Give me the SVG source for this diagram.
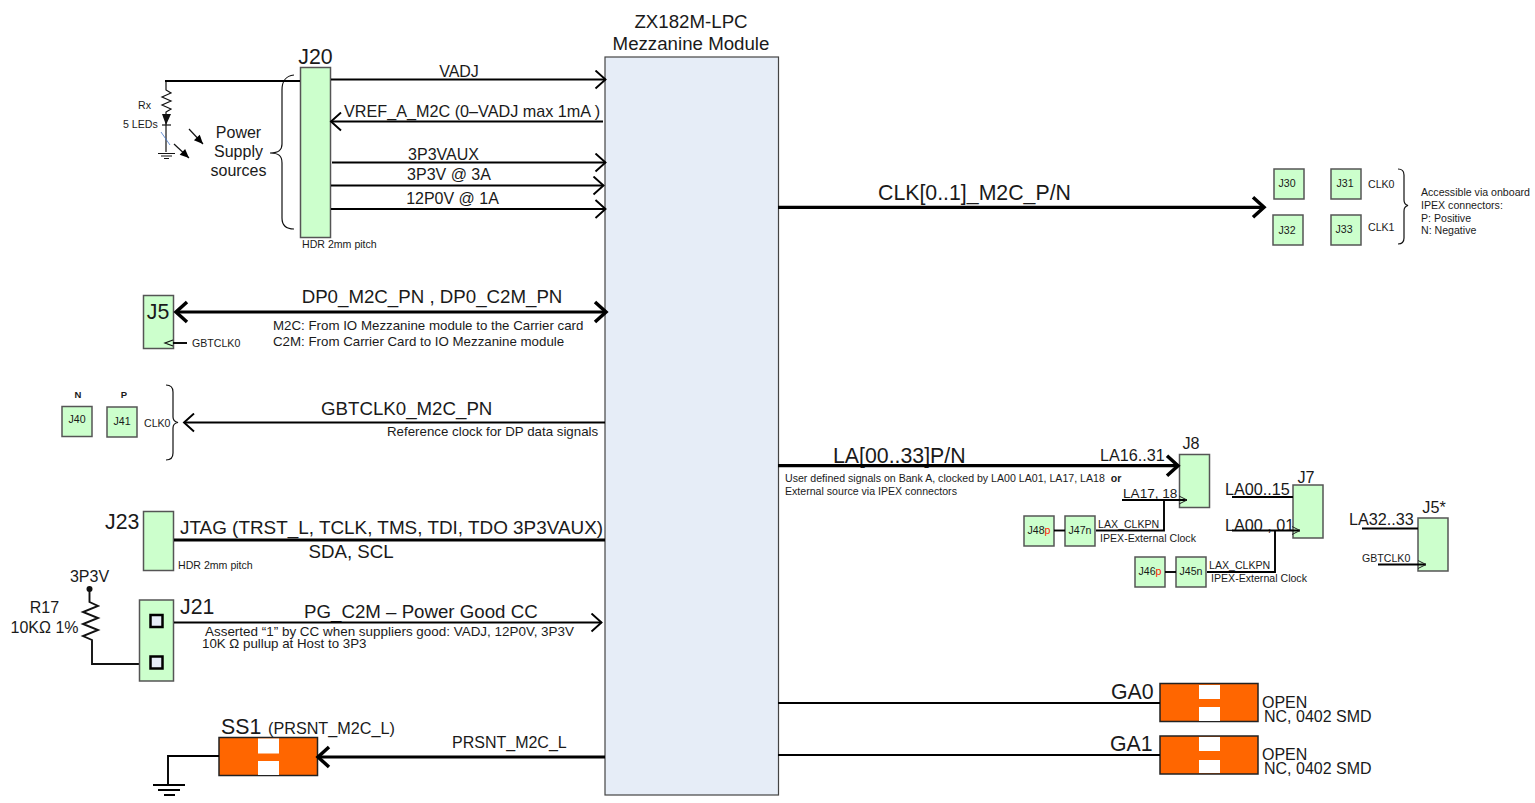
<svg xmlns="http://www.w3.org/2000/svg" width="1535" height="803" viewBox="0 0 1535 803">
<style>
text{font-family:"Liberation Sans",Arial,sans-serif;fill:#1a1a1a}
.gb{fill:#ccffcc;stroke:#555;stroke-width:1.5}
.k{fill:none;stroke:#000;stroke-width:1.9}
.k1{fill:none;stroke:#111;stroke-width:1.2}
.t{fill:none;stroke:#000;stroke-width:3.2}
.or{fill:#ff6600;stroke:#222;stroke-width:1.5}
.w{fill:#fff}
.s9{font-size:9.5px}.s10{font-size:10.6px}.s12{font-size:13.3px}.s15{font-size:16px}.s16{font-size:16.2px}.s18{font-size:18.7px}.s20{font-size:21.3px}
.m{text-anchor:middle}
</style>
<defs>
<marker id="a" markerUnits="userSpaceOnUse" markerWidth="14" markerHeight="20" refX="12" refY="10" orient="auto-start-reverse"><path d="M2,1 L12,10 L2,19" fill="none" stroke="#000" stroke-width="1.900"/></marker>
<marker id="b" markerUnits="userSpaceOnUse" markerWidth="16" markerHeight="26" refX="13" refY="13" orient="auto-start-reverse"><path d="M2,3 L13,13 L2,23" fill="none" stroke="#000" stroke-width="3.500"/></marker>
<marker id="o" markerUnits="userSpaceOnUse" markerWidth="10" markerHeight="10" refX="9" refY="5" orient="auto-start-reverse"><path d="M1,1 L9,5 L1,9" fill="none" stroke="#222" stroke-width="1"/></marker>
<marker id="f" markerUnits="userSpaceOnUse" markerWidth="12" markerHeight="12" refX="11" refY="6" orient="auto"><path d="M2,2 L11,6 L2,10 Z" fill="#000"/></marker>
</defs>

<g id="module"><rect x="605" y="57" width="173.500" height="738" fill="#e6edf7" stroke="#444" stroke-width="1.200"/>
<text class="s18 m" x="691" y="28">ZX182M-LPC</text><text class="s18 m" x="691" y="50">Mezzanine Module</text></g>

<g id="J20"><rect class="gb" x="300.500" y="67.500" width="30" height="170"/><text class="s20 m" x="315.500" y="64">J20</text><text class="s10" x="302" y="248">HDR 2mm pitch</text></g>

<g id="led">
<path class="k1" stroke-width="1.500" d="M166,81 V90 L171,93 L162,97 L171,101 L162,105 L171,109 L166,112 V152"/>
<path d="M162,114 H171 L166,125 Z" fill="#111"/><path class="k1" d="M162,125 H171"/>
<path d="M161,132 L170,145" stroke="#4477cc" stroke-width="0.800" fill="none"/>
<path class="k1" d="M158,153.500 H175 M161,156 H172 M164,158.500 H169"/>
<path d="M189,129 L203,144" class="k1" marker-end="url(#f)"/>
<path d="M174,144 L189,158" class="k1" marker-end="url(#f)"/>
<text class="s10" x="138" y="109" fill="#333">Rx</text>
<text class="s10" x="123" y="128" fill="#333">5 LEDs</text>
<text class="s15 m" x="238.500" y="138">Power</text><text class="s15 m" x="238.500" y="157">Supply</text><text class="s15 m" x="238.500" y="176">sources</text>
<path class="k1" d="M294,75 C286,76 282,80 282,90 V144 C282,150 279,153 270,153 C279,153 282,156 282,163 V218 C282,225 286,229 294,229"/>
</g>

<g id="signals-left">
<text class="s15 m" x="459" y="77">VADJ</text>
<text class="s16" x="344" y="116.500">VREF_A_M2C (0–VADJ max 1mA )</text>
<text class="s15 m" x="443.500" y="160">3P3VAUX</text>
<text class="s15 m" x="449" y="180">3P3V @ 3A</text>
<text class="s15 m" x="452.500" y="204">12P0V @ 1A</text>
<text class="s18 m" x="432" y="303">DP0_M2C_PN , DP0_C2M_PN</text>
<text class="s12" x="273" y="330">M2C: From IO Mezzanine module to the Carrier card</text>
<text class="s12" x="273" y="346">C2M: From Carrier Card to IO Mezzanine module</text>
<text class="s18" x="321" y="415">GBTCLK0_M2C_PN</text>
<text class="s12" x="387" y="436">Reference clock for DP data signals</text>
<text font-size="18.900" x="180" y="534">JTAG (TRST_L, TCLK, TMS, TDI, TDO 3P3VAUX)</text>
<text class="s18" x="308.500" y="558">SDA, SCL</text>
<text class="s18" x="304" y="618">PG_C2M – Power Good CC</text>
<text font-size="13.450" x="205" y="636">Asserted “1” by CC when suppliers good: VADJ, 12P0V, 3P3V</text>
<text class="s12" x="202" y="648">10K Ω pullup at Host to 3P3</text>
<text class="s15" x="452" y="748">PRSNT_M2C_L</text>
</g>

<g id="J5"><rect class="gb" x="143.500" y="295.500" width="30" height="53"/><text class="s20 m" x="158" y="319">J5</text><text class="s10" x="192" y="347" fill="#333">GBTCLK0</text></g>

<g id="J40"><rect class="gb" x="62" y="406.500" width="30" height="30"/><text class="s10 m" x="77" y="423" fill="#333">J40</text><text class="s9 m" x="78" y="398" font-weight="bold">N</text></g>
<g id="J41"><rect class="gb" x="107" y="407" width="30" height="30"/><text class="s10 m" x="122" y="425" fill="#333">J41</text><text class="s9 m" x="124" y="398" font-weight="bold">P</text></g>
<g id="clk0-left"><text class="s10" x="144" y="427" fill="#333">CLK0</text>
<path class="k1" stroke-width="1" d="M166,385 C171,385 173,387 173,392 V417 C173,420 175,422 178,422.500 C175,423 173,425 173,428 V453 C173,458 171,460 166,460"/></g>

<g id="J23"><rect class="gb" x="143.500" y="511.500" width="30" height="59"/><text class="s20" x="105" y="529">J23</text><text class="s10" x="178" y="569">HDR 2mm pitch</text></g>

<g id="R17">
<circle cx="89.500" cy="589" r="3" fill="#111"/>
<path d="M89.500,589 V602 L98,606 L83,612 L98,618 L83,624 L98,630 L83,636 L92,640 V664 H139" fill="none" stroke="#111" stroke-width="1.900"/>
<text class="s15 m" x="89.500" y="582">3P3V</text>
<text class="s15 m" x="44.500" y="613">R17</text><text class="s15 m" x="44.500" y="633">10KΩ 1%</text>
</g>
<g id="J21"><rect class="gb" x="139.500" y="600" width="34" height="81"/>
<rect x="150.500" y="615" width="12" height="12" fill="#e6edf7" stroke="#000" stroke-width="2.500"/>
<rect x="150.500" y="656.500" width="12" height="12" fill="#e6edf7" stroke="#000" stroke-width="2.500"/>
<text class="s20" x="180" y="614">J21</text></g>

<g id="SS1"><rect class="or" x="219" y="737.500" width="98.500" height="38"/><rect class="w" x="258" y="738.500" width="21" height="15"/><rect class="w" x="258" y="761" width="21" height="14"/>
<text class="s20" x="221" y="734">SS1</text><text class="s16" x="268" y="734">(PRSNT_M2C_L)</text></g>
<g id="gnd2"><path class="k" d="M153,785 H185 M158,790 H180 M164,795 H175"/></g>

<g id="signals-right">
<text class="s20" x="878" y="200">CLK[0..1]_M2C_P/N</text>
<text class="s20" x="833" y="462.500">LA[00..33]P/N</text>
<text class="s10" x="785" y="482">User defined signals on Bank A, clocked by LA00 LA01, LA17, LA18 <tspan font-weight="bold" dx="3">or</tspan></text>
<text class="s10" x="785" y="495">External source via IPEX connectors</text>
<text class="s16" x="1100" y="460.500">LA16..31</text>
<text font-size="13.600" x="1123" y="498">LA17, 18</text>
<text class="s16" x="1225" y="495">LA00..15</text>
<text class="s16" x="1225" y="531">LA00 , 01</text>
<text class="s16" x="1349" y="525">LA32..33</text>
<text class="s10" x="1362" y="562" fill="#333">GBTCLK0</text>
<text class="s10" x="1098" y="528" fill="#333">LAX_CLKPN</text>
<text class="s10" x="1100" y="542" fill="#333">IPEX-External Clock</text>
<text class="s10" x="1209" y="569" fill="#333">LAX_CLKPN</text>
<text class="s10" x="1211" y="582" fill="#333">IPEX-External Clock</text>
</g>

<g id="J30"><rect class="gb" x="1274" y="169" width="30" height="30"/><text class="s10 m" x="1287" y="187" fill="#333">J30</text></g>
<g id="J31"><rect class="gb" x="1331" y="169" width="30" height="30"/><text class="s10 m" x="1345" y="187" fill="#333">J31</text></g>
<g id="J32"><rect class="gb" x="1273" y="215" width="30" height="30"/><text class="s10 m" x="1287" y="234" fill="#333">J32</text></g>
<g id="J33"><rect class="gb" x="1331" y="215" width="30" height="30"/><text class="s10 m" x="1344" y="233" fill="#333">J33</text></g>
<g id="clk-note">
<text class="s10" x="1368" y="188" fill="#333">CLK0</text><text class="s10" x="1368" y="231" fill="#333">CLK1</text>
<path class="k1" stroke-width="1" d="M1398,169 C1402,169 1404,171 1404,175 V200 C1404,203 1406,205 1408,205.500 C1406,206 1404,208 1404,211 V238 C1404,242 1402,244 1398,244"/>
<text class="s10" x="1421" y="196" fill="#333">Accessible via onboard</text>
<text class="s10" x="1421" y="209" fill="#333">IPEX connectors:</text>
<text class="s10" x="1421" y="222" fill="#333">P:  Positive</text>
<text class="s10" x="1421" y="234" fill="#333">N: Negative</text>
</g>

<g id="J8"><rect class="gb" x="1179.500" y="454.500" width="30" height="53"/><text class="s16 m" x="1191" y="449">J8</text></g>
<g id="J7"><rect class="gb" x="1293" y="485" width="30" height="53"/><text class="s16 m" x="1306" y="483">J7</text></g>
<g id="J5s"><rect class="gb" x="1418" y="518" width="30" height="53"/><text class="s16 m" x="1434" y="513">J5*</text></g>
<g id="J48"><rect class="gb" x="1024" y="516" width="30" height="30"/><text class="s10 m" x="1039" y="534" fill="#333">J48<tspan fill="#ff2200">p</tspan></text></g>
<g id="J47"><rect class="gb" x="1065" y="516" width="30" height="30"/><text class="s10 m" x="1080" y="534" fill="#333">J47n</text></g>
<g id="J46"><rect class="gb" x="1135" y="557" width="30" height="30"/><text class="s10 m" x="1150" y="575" fill="#333">J46<tspan fill="#ff2200">p</tspan></text></g>
<g id="J45"><rect class="gb" x="1176" y="557" width="30" height="30"/><text class="s10 m" x="1191" y="575" fill="#333">J45n</text></g>

<g id="GA0"><rect class="or" x="1160" y="683.500" width="98" height="38"/><rect class="w" x="1199" y="685" width="21" height="14"/><rect class="w" x="1199" y="707" width="21" height="14"/>
<text class="s20" x="1111" y="699">GA0</text><text class="s15" x="1262" y="708">OPEN</text><text class="s15" x="1264" y="722">NC, 0402 SMD</text></g>
<g id="GA1"><rect class="or" x="1160" y="736" width="98" height="38"/><rect class="w" x="1199" y="737" width="21" height="14"/><rect class="w" x="1199" y="760" width="21" height="13"/>
<text class="s20" x="1110" y="751">GA1</text><text class="s15" x="1262" y="760">OPEN</text><text class="s15" x="1264" y="774">NC, 0402 SMD</text></g>

<g id="connectors">
<path class="k" d="M165,81 H300"/>
<path class="k" d="M331,79.500 H605.500" marker-end="url(#a)"/>
<path class="k" d="M603,121.500 H331" marker-end="url(#a)"/>
<path class="k" d="M332,162.500 H605.500" marker-end="url(#a)"/>
<path class="k" d="M331,185.500 H603.500" marker-end="url(#a)"/>
<path class="k" d="M331,209 H605.500" marker-end="url(#a)"/>
<path class="t" d="M176,312 H606" marker-start="url(#b)" marker-end="url(#b)"/>
<path class="k" d="M605,422.500 H184" marker-end="url(#a)"/>
<path class="k" d="M173,343 H187"/>
<path class="k1" d="M173,340 L165,343 L173,346"/>
<path class="t" d="M174,540 H605"/>
<path class="k" d="M174,622.500 H601.500" marker-end="url(#a)"/>
<path class="t" d="M605,757 H318" marker-end="url(#b)"/>
<path class="t" d="M778,207.300 H1264" marker-end="url(#b)"/>
<path class="t" d="M778,465.700 H1178" marker-end="url(#b)"/>
<path class="k" d="M1122,500 H1187" marker-end="url(#o)"/>
<path class="k" d="M1164,500 V530.500 H1096"/>
<path class="k" d="M1054,530.500 H1065"/>
<path class="k" d="M1232,497 H1293"/>
<path class="k" d="M1232,530.500 H1300" marker-end="url(#o)"/>
<path class="k" d="M1275,531 V572 H1207"/>
<path class="k" d="M1165,572 H1176"/>
<path class="k" d="M1362,528.500 H1418"/>
<path class="k" d="M1378,564.500 H1426" marker-end="url(#o)"/>
<path class="k" d="M778,703 H1160"/>
<path class="k" d="M778,755 H1160"/>
<path class="k" d="M219,756 H168 V784"/>
</g>
</svg>
